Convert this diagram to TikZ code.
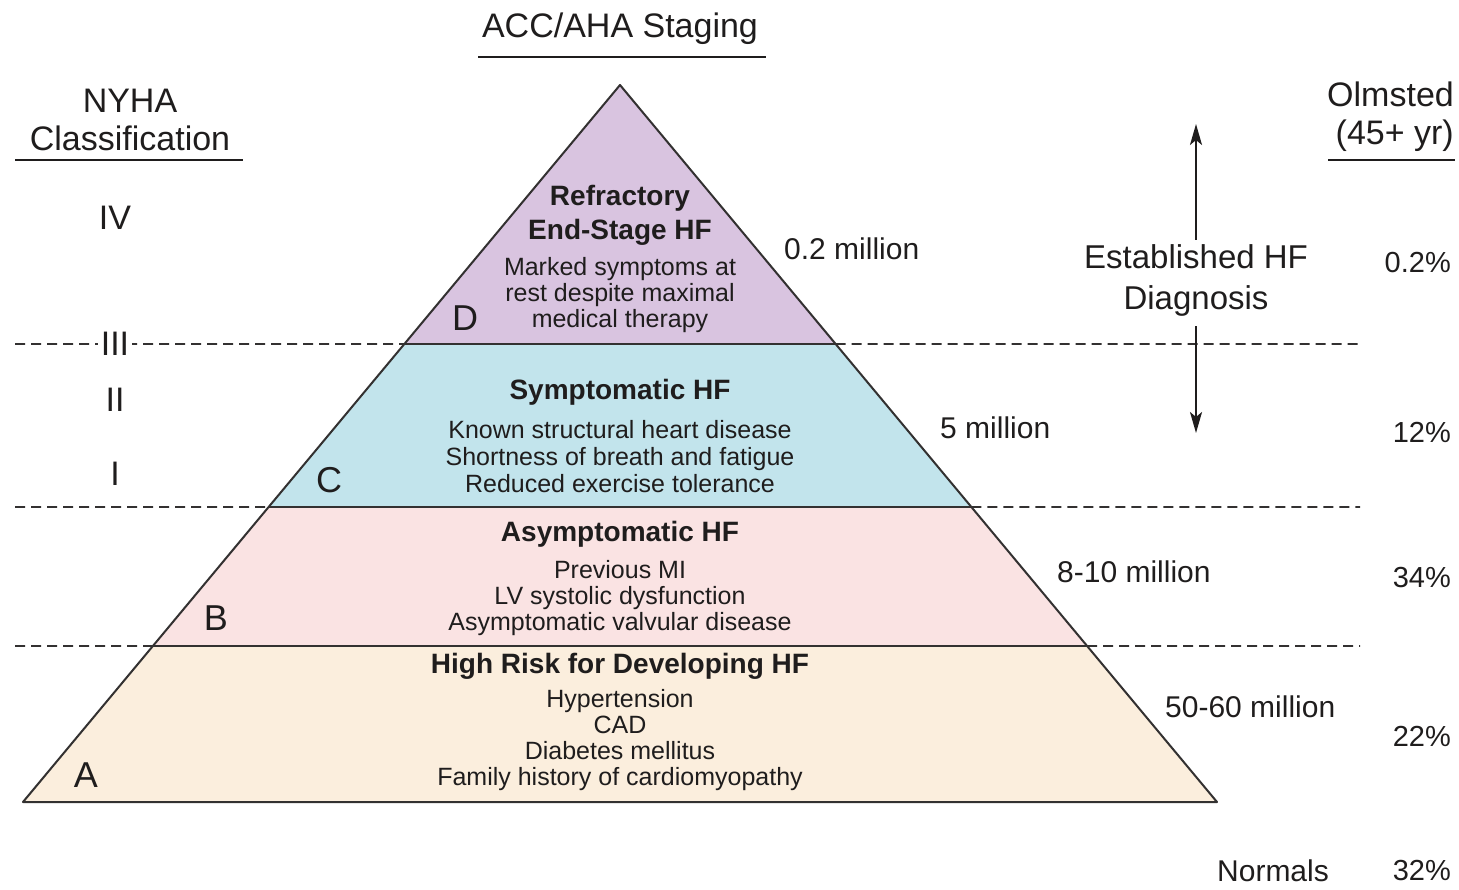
\documentclass[tikz,border=0pt]{standalone}
\usepackage{fontspec}
\setmainfont{Liberation Sans}
\usetikzlibrary{calc,arrows.meta}
\definecolor{ink}{HTML}{1F1D1D}
\definecolor{edge}{HTML}{333131}
\definecolor{stageD}{HTML}{D9C4E0}
\definecolor{stageC}{HTML}{C2E4EC}
\definecolor{stageB}{HTML}{FAE3E3}
\definecolor{stageA}{HTML}{FBEEDD}
\begin{document}
\begin{tikzpicture}[x=1pt,y=-1pt,
  txt/.style={text=ink,inner sep=0pt,align=center},
  head/.style={txt,font=\fontsize{34}{38}\selectfont},
  ttl/.style={txt,font=\fontsize{28}{34}\selectfont\bfseries},
  body/.style={txt,font=\fontsize{25}{26.3}\selectfont},
  side/.style={txt,font=\fontsize{30}{36}\selectfont,anchor=west},
  pct/.style={txt,font=\fontsize{29}{34}\selectfont,anchor=east},
  stageletter/.style={txt,font=\fontsize{36}{40}\selectfont},
  roman/.style={txt,font=\fontsize{34}{40}\selectfont},
  divider/.style={edge,line width=1.8pt,dash pattern=on 10pt off 6pt},
  rule/.style={ink,line width=2pt},
  tier/.style={draw=edge,line width=2pt,line join=round},
  diagarrow/.style={ink,line width=2.2pt,-{Stealth[length=21pt,width=12pt,inset=5pt]}}]

\useasboundingbox (0,0) rectangle (1459,889);

% pyramid corners and tier boundaries
\coordinate (apex) at (620,85);
\coordinate (bl) at (23,802);
\coordinate (br) at (1217,802);
\coordinate (l1) at ($(apex)!0.3612!(bl)$);
\coordinate (r1) at ($(apex)!0.3612!(br)$);
\coordinate (l2) at ($(apex)!0.5886!(bl)$);
\coordinate (r2) at ($(apex)!0.5886!(br)$);
\coordinate (l3) at ($(apex)!0.7824!(bl)$);
\coordinate (r3) at ($(apex)!0.7824!(br)$);

% tiers of the pyramid
\fill[stageA] (l3) -- (r3) -- (br) -- (bl) -- cycle;
\fill[stageB] (l2) -- (r2) -- (r3) -- (l3) -- cycle;
\fill[stageC] (l1) -- (r1) -- (r2) -- (l2) -- cycle;
\fill[stageD] (apex) -- (r1) -- (l1) -- cycle;
\draw[tier] (apex) -- (br) -- (bl) -- cycle;
\draw[tier] (l1) -- (r1);
\draw[tier] (l2) -- (r2);
\draw[tier] (l3) -- (r3);

% dashed class boundaries outside the pyramid
\coordinate (d1L) at (15,344);  \coordinate (d1R) at (1360,344);
\coordinate (d2L) at (15,507);  \coordinate (d2R) at (1360,507);
\coordinate (d3L) at (15,646);  \coordinate (d3R) at (1360,646);
\draw[divider] (d1L) -- (l1);
\draw[divider] (r1) -- (d1R);
\draw[divider] (d2L) -- (l2);
\draw[divider] (r2) -- (d2R);
\draw[divider] (d3L) -- (l3);
\draw[divider] (r3) -- (d3R);

% column headings
\node[head] (acc) at (620,29) {ACC/AHA Staging};
\draw[rule] (478,57) -- (766,57);
\node[head] (nyha) at (130,120) {NYHA\\Classification};
\draw[rule] (15,160) -- (243,160);
\node[head,align=right,anchor=east] (olm) at (1454,117) {Olmsted\\(45+ yr)};
\draw[rule] (1328,160) -- (1455,160);

% NYHA classes
\node[roman] (c4) at (115,218) {IV};
\node[roman,fill=white,inner xsep=3pt] (c3) at (115,344) {III};
\node[roman] (c2) at (115,400) {II};
\node[roman] (c1) at (115,474) {I};

% stage D
\node[ttl] (dT) at (620,215) {Refractory\\End-Stage HF};
\node[body] (dB) at (620,295) {Marked symptoms at\\rest despite maximal\\medical therapy};
\node[stageletter] (dL) at (465,318) {D};
% stage C
\node[ttl] (cT) at (620,392) {Symptomatic HF};
\node[body,font=\fontsize{25}{27}\selectfont] (cB) at (620,457) {Known structural heart disease\\Shortness of breath and fatigue\\Reduced exercise tolerance};
\node[stageletter] (cL) at (329,480) {C};
% stage B
\node[ttl] (bT) at (620,534) {Asymptomatic HF};
\node[body] (bB) at (620,598) {Previous MI\\LV systolic dysfunction\\Asymptomatic valvular disease};
\node[stageletter] (bL) at (216,618) {B};
% stage A
\node[ttl] (aT) at (620,666) {High Risk for Developing HF};
\node[body] (aB) at (620,740) {Hypertension\\CAD\\Diabetes mellitus\\Family history of cardiomyopathy};
\node[stageletter] (aL) at (86,775) {A};

% population counts
\node[side] (n4) at (784,249) {0.2 million};
\node[side] (n3) at (940,428) {5 million};
\node[side] (n2) at (1057,572) {8-10 million};
\node[side] (n1) at (1165,707) {50-60 million};

% established diagnosis with its arrows
\node[head,font=\fontsize{33}{41}\selectfont,inner sep=4pt] (est) at (1196,280) {Established HF\\Diagnosis};
\coordinate (upTip) at (1196,124);
\coordinate (downTip) at (1196,433);
\draw[diagarrow] (est.north) -- (upTip);
\draw[diagarrow,shorten <=6pt] (est.south) -- (downTip);

% Olmsted percentages
\node[pct] (p4) at (1451,263) {0.2\%};
\node[pct] (p3) at (1451,432) {12\%};
\node[pct] (p2) at (1451,578) {34\%};
\node[pct] (p1) at (1451,736) {22\%};
\node[pct] (p0) at (1451,871) {32\%};
\node[txt,font=\fontsize{30}{36}\selectfont] (norm) at (1273,871) {Normals};
\end{tikzpicture}
\end{document}
